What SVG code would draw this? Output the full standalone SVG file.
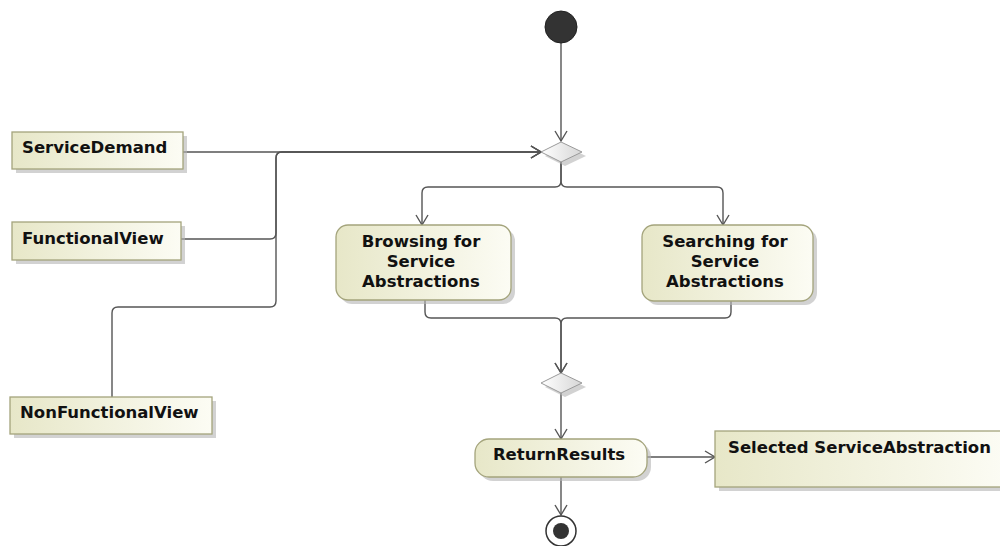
<svg xmlns="http://www.w3.org/2000/svg" width="1000" height="546" viewBox="0 0 1000 546">
<style>
.box{fill:url(#g);stroke:#a4a47c;stroke-width:1.3}
.sh{fill:#b4b4b4;opacity:0.6}
.t{font-family:"DejaVu Sans",Verdana,sans-serif;font-weight:bold;font-size:16.5px;fill:#111}
.c{fill:none;stroke:#555;stroke-width:1.4}
.dia{fill:url(#dg);stroke:#9a9a9a;stroke-width:1}
</style>
<defs>
<linearGradient id="g" x1="0" y1="0" x2="1" y2="0">
<stop offset="0" stop-color="#e7e7c8"/>
<stop offset="1" stop-color="#fcfcf4"/>
</linearGradient>
<linearGradient id="dg" x1="0" y1="0" x2="1" y2="0">
<stop offset="0" stop-color="#ffffff"/>
<stop offset="1" stop-color="#d6d6d6"/>
</linearGradient>
<marker id="a" markerWidth="14" markerHeight="14" refX="11" refY="7" orient="auto" markerUnits="userSpaceOnUse">
<path d="M1,1 L11,7 L1,13" fill="none" stroke="#555" stroke-width="1.4"/>
</marker>
</defs>

<g id="connectors">
<path class="c" d="M561,43 L561,141" marker-end="url(#a)"/>
<path class="c" d="M183,152 L541,152" marker-end="url(#a)"/>
<path class="c" d="M181,239 L270,239 Q276,239 276,233 L276,158 Q276,152 282,152 L541,152" marker-end="url(#a)"/>
<path class="c" d="M112,397 L112,313 Q112,307 118,307 L270,307 Q276,307 276,301 L276,158 Q276,152 282,152 L541,152" marker-end="url(#a)"/>
<path class="c" d="M561,162 L561,181 Q561,187 555,187 L428,187 Q422,187 422,193 L422,225" marker-end="url(#a)"/>
<path class="c" d="M561,162 L561,181 Q561,187 567,187 L717,187 Q723,187 723,193 L723,225" marker-end="url(#a)"/>
<path class="c" d="M425,300 L425,312 Q425,318 431,318 L555,318 Q561,318 561,324 L561,373" marker-end="url(#a)"/>
<path class="c" d="M731,301 L731,312 Q731,318 725,318 L567,318 Q561,318 561,324 L561,373" marker-end="url(#a)"/>
<path class="c" d="M561,393 L561,439" marker-end="url(#a)"/>
<path class="c" d="M561,477 L561,515" marker-end="url(#a)"/>
<path class="c" d="M647,457 L715,457" marker-end="url(#a)"/>
</g>

<g id="initial">
<circle cx="561" cy="27" r="16" fill="#333" stroke="#222" stroke-width="1"/>
</g>

<g id="decision1">
<path class="sh" d="M545,156 L565,146 L586,156 L565,166 Z"/>
<path class="dia" d="M541,152 L561,142 L582,152 L561,162 Z"/>
</g>

<g id="decision2">
<path class="sh" d="M545,387 L565,377 L586,387 L565,397 Z"/>
<path class="dia" d="M541,383 L561,373 L582,383 L561,393 Z"/>
</g>

<g id="ServiceDemand">
<rect class="sh" x="16" y="136" width="171" height="37"/>
<rect class="box" x="12" y="132" width="171" height="37"/>
<text class="t" x="22" y="153">ServiceDemand</text>
</g>

<g id="FunctionalView">
<rect class="sh" x="16" y="226" width="169" height="38"/>
<rect class="box" x="12" y="222" width="169" height="38"/>
<text class="t" x="22" y="244">FunctionalView</text>
</g>

<g id="NonFunctionalView">
<rect class="sh" x="14" y="401" width="202" height="37"/>
<rect class="box" x="10" y="397" width="202" height="37"/>
<text class="t" x="20" y="418">NonFunctionalView</text>
</g>

<g id="Browsing">
<rect class="sh" x="340" y="229" width="175" height="75" rx="12"/>
<rect class="box" x="336" y="225" width="175" height="75" rx="12"/>
<text class="t" text-anchor="middle" x="421" y="247">Browsing for</text>
<text class="t" text-anchor="middle" x="421" y="267">Service</text>
<text class="t" text-anchor="middle" x="421" y="287">Abstractions</text>
</g>

<g id="Searching">
<rect class="sh" x="646" y="229" width="171" height="76" rx="12"/>
<rect class="box" x="642" y="225" width="171" height="76" rx="12"/>
<text class="t" text-anchor="middle" x="725" y="247">Searching for</text>
<text class="t" text-anchor="middle" x="725" y="267">Service</text>
<text class="t" text-anchor="middle" x="725" y="287">Abstractions</text>
</g>

<g id="ReturnResults">
<rect class="sh" x="479" y="443" width="172" height="38" rx="14"/>
<rect class="box" x="475" y="439" width="172" height="38" rx="14"/>
<text class="t" text-anchor="middle" x="559" y="460">ReturnResults</text>
</g>

<g id="SelectedServiceAbstraction">
<rect class="sh" x="719" y="435" width="290" height="56"/>
<rect class="box" x="715" y="431" width="290" height="56"/>
<text class="t" x="728" y="453">Selected ServiceAbstraction</text>
</g>

<g id="final">
<circle cx="561" cy="531" r="15" fill="#fff" stroke="#333" stroke-width="1.5"/>
<circle cx="561" cy="531" r="8" fill="#333"/>
</g>
</svg>
